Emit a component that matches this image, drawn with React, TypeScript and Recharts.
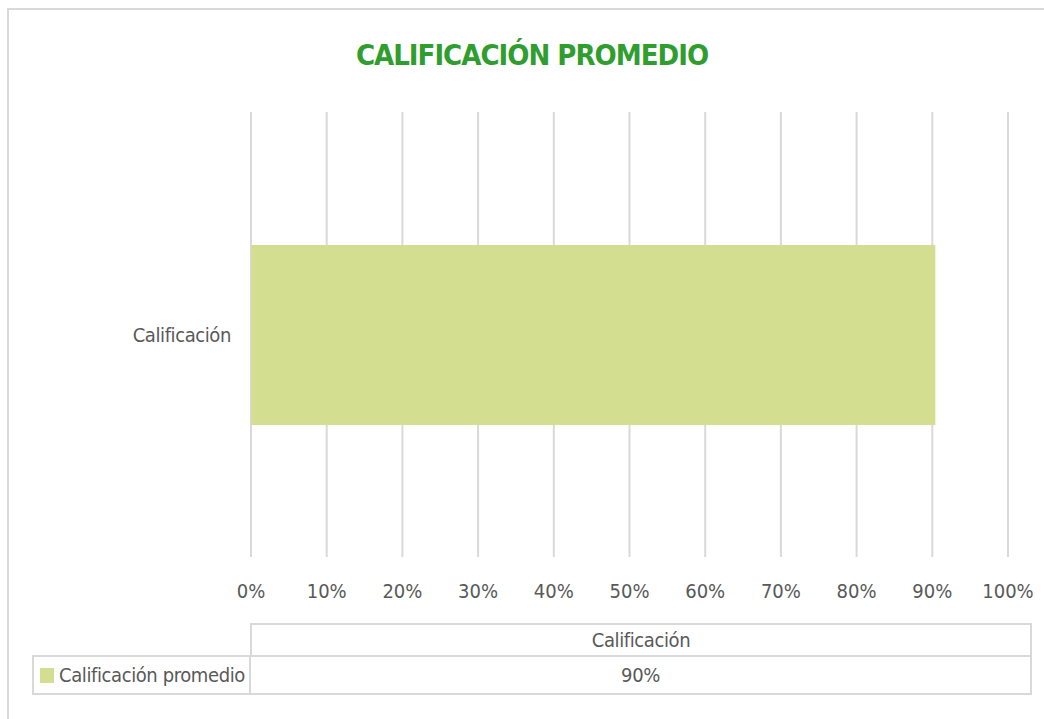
import React from 'react'
import { BarChart, Bar, XAxis, YAxis, CartesianGrid } from 'recharts'

const title = 'CALIFICACIÓN PROMEDIO'
const categories = ['Calificación']
const seriesName = 'Calificación promedio'
const seriesValues = [0.904]
const xTicks = [0, 0.1, 0.2, 0.3, 0.4, 0.5, 0.6, 0.7, 0.8, 0.9, 1]

const FONT = '"DejaVu Sans Condensed", "DejaVu Sans", sans-serif'
const TEXT = '#595959'
const GRID = '#d9d9d9'
const BAR = '#d3de91'

const pct = (v: number) => `${Math.round(v * 100)}%`

export default function App() {
  const data = categories.map((c, i) => ({ name: c, value: seriesValues[i] }))
  return (
    <div style={{ position: 'absolute', left: 0, top: 0, width: 1044, height: 719, background: '#fff', fontFamily: FONT, overflow: 'hidden' }}>
      {/* outer chart border */}
      <div style={{ position: 'absolute', left: 7, top: 8, right: -4, bottom: -4, border: `2px solid ${GRID}` }} />
      <div style={{ position: 'absolute', left: 0, width: 1064, top: 37, textAlign: 'center', fontSize: 29, letterSpacing: -1, fontWeight: 'bold', color: '#2f9e2f', lineHeight: '36px' }}>
        {title}
      </div>
      <div style={{ position: 'absolute', left: 0, top: 0 }}>
        <BarChart width={1044} height={719} data={data} layout="vertical" margin={{ top: 112, right: 36, bottom: 122, left: 0 }}>
          <CartesianGrid horizontal={false} stroke={GRID} strokeWidth={2} />
          <XAxis type="number" domain={[0, 1]} ticks={xTicks} tickFormatter={pct} axisLine={false} tickLine={false} tickSize={0} tickMargin={27} height={40} interval={0}
            tick={{ fill: TEXT, fontSize: 20, fontFamily: FONT }} />
          <YAxis type="category" dataKey="name" width={251} axisLine={false} tickLine={false} tickSize={0} tickMargin={20}
            tick={{ fill: TEXT, fontSize: 20, fontFamily: FONT, letterSpacing: -0.4 }} />
          <Bar dataKey="value" name={seriesName} fill={BAR} barSize={180} isAnimationActive={false} />
        </BarChart>
      </div>
      {/* data table */}
      <div style={{ position: 'absolute', left: 250, top: 623, width: 782, height: 34, boxSizing: 'border-box', border: `2px solid ${GRID}`, color: TEXT, fontSize: 20, letterSpacing: -0.4, textAlign: 'center', lineHeight: '30px' }}>
        {categories[0]}
      </div>
      <div style={{ position: 'absolute', left: 32, top: 655, width: 1000, height: 40, boxSizing: 'border-box', border: `2px solid ${GRID}`, color: TEXT, fontSize: 20, letterSpacing: -0.4, display: 'flex' }}>
        <div style={{ width: 217, borderRight: `2px solid ${GRID}`, display: 'flex', alignItems: 'center', paddingLeft: 6, boxSizing: 'border-box', whiteSpace: 'nowrap' }}>
          <span style={{ display: 'inline-block', width: 14, height: 15, background: BAR, marginRight: 5, flexShrink: 0 }} />
          <span>{seriesName}</span>
        </div>
        <div style={{ flex: 1, textAlign: 'center', lineHeight: '36px' }}>{pct(seriesValues[0])}</div>
      </div>
    </div>
  )
}
